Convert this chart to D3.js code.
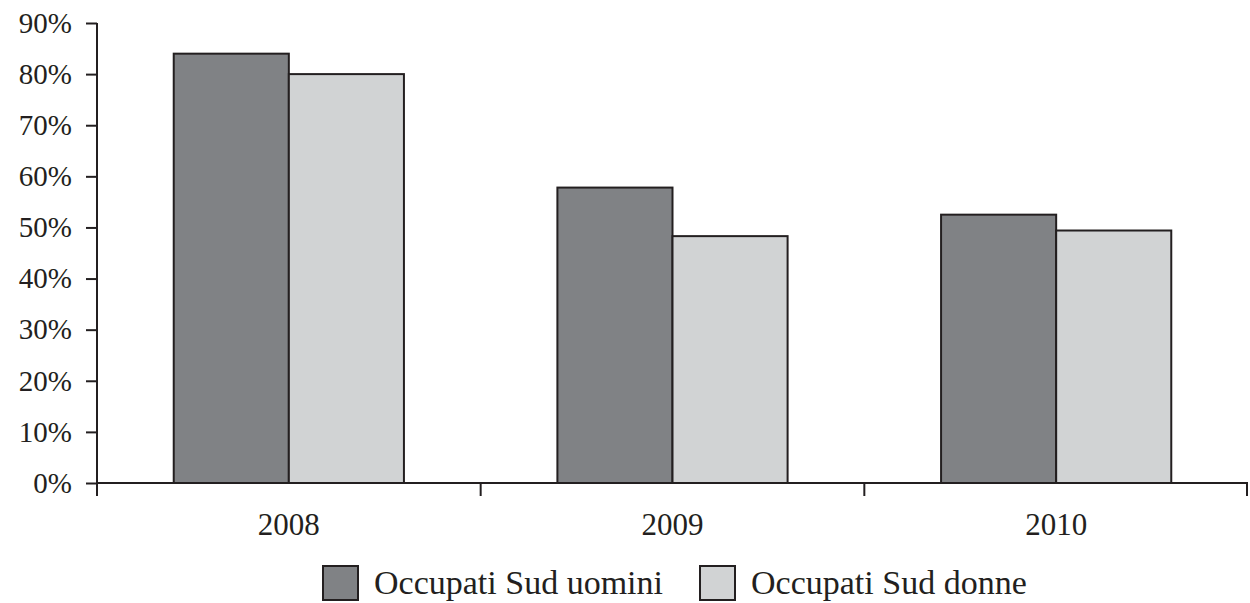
<!DOCTYPE html>
<html>
<head>
<meta charset="utf-8">
<script src="https://cdn.jsdelivr.net/npm/d3@7"></script>
<style>
  html, body { margin: 0; padding: 0; background: #fff; }
  svg { display: block; }
  text { font-family: "Liberation Serif", "DejaVu Serif", serif; fill: #231f20; }
</style>
</head>
<body>
<svg id="chart" width="1250" height="603"></svg>
<script>
// Employment share in the South, by year and sex
const years = ["2008", "2009", "2010"];
const seriesNames = ["Occupati Sud uomini", "Occupati Sud donne"];
const uomini = [84, 57.8, 52.5];
const donne = [80, 48.3, 49.4];
const yTicks = [0, 10, 20, 30, 40, 50, 60, 70, 80, 90];
const colors = ["#808285", "#d1d3d4"];

const svg = d3.select("#chart");
const margin = { left: 97, right: 2, top: 23, bottom: 120 };
const W = 1250, H = 603;

const x = d3.scaleBand()
  .domain(years)
  .range([margin.left, W - margin.right])
  .paddingInner(0.4)
  .paddingOuter(0.2);

const xSub = d3.scaleBand()
  .domain(seriesNames)
  .range([0, x.bandwidth()]);

const y = d3.scaleLinear()
  .domain([0, 90])
  .range([483, margin.top]);

const rows = years.map((yr, i) => ({ year: yr, values: [uomini[i], donne[i]] }));

// Bars
const groups = svg.append("g").selectAll("g")
  .data(rows)
  .join("g")
  .attr("transform", d => `translate(${x(d.year)},0)`);

groups.selectAll("rect")
  .data(d => d.values.map((v, k) => ({ key: seriesNames[k], v, k })))
  .join("rect")
  .attr("x", d => xSub(d.key))
  .attr("y", d => y(d.v))
  .attr("width", xSub.bandwidth())
  .attr("height", d => y(0) - y(d.v))
  .attr("fill", d => colors[d.k])
  .attr("stroke", "#231f20")
  .attr("stroke-width", 2);

// Y axis
const yAxis = d3.axisLeft(y)
  .tickValues(yTicks)
  .tickFormat(d => d + "%")
  .tickSize(11)
  .tickPadding(14);

const gy = svg.append("g")
  .attr("transform", `translate(${margin.left},0)`)
  .call(yAxis);
gy.select(".domain").remove();
gy.append("line")
  .attr("x1", 0).attr("x2", 0)
  .attr("y1", y(90)).attr("y2", y(0) + 13)
  .attr("stroke", "#231f20").attr("stroke-width", 2);
gy.selectAll(".tick line").attr("stroke", "#231f20").attr("stroke-width", 2);
gy.selectAll(".tick text")
  .style("font-size", "29px")
  .attr("fill", "#231f20");

// X axis with boundary ticks between categories
const gx = svg.append("g")
  .attr("transform", `translate(0,${y(0)})`);
gx.append("line")
  .attr("x1", margin.left).attr("x2", W - margin.right)
  .attr("y1", 0).attr("y2", 0)
  .attr("stroke", "#231f20").attr("stroke-width", 2);
const step = x.step();
const bounds = d3.range(years.length + 1).map(i => x.range()[0] + i * step);
gx.selectAll("line.bound")
  .data(bounds.slice(1))
  .join("line")
  .attr("class", "bound")
  .attr("x1", d => Math.min(d, W - margin.right - 1)).attr("x2", d => Math.min(d, W - margin.right - 1))
  .attr("y1", 0).attr("y2", 13)
  .attr("stroke", "#231f20").attr("stroke-width", 2);
gx.selectAll("text")
  .data(years)
  .join("text")
  .attr("x", d => x(d) + x.bandwidth() / 2)
  .attr("y", 52)
  .attr("text-anchor", "middle")
  .style("font-size", "31px")
  .text(d => d);

// Legend
const legend = svg.append("g").attr("transform", "translate(0,566)");
const legendX = [323, 700];
seriesNames.forEach((name, k) => {
  legend.append("rect")
    .attr("x", legendX[k]).attr("y", 0)
    .attr("width", 35).attr("height", 34)
    .attr("fill", colors[k])
    .attr("stroke", "#231f20").attr("stroke-width", 2);
  legend.append("text")
    .attr("x", legendX[k] + 51).attr("y", 28)
    .style("font-size", "34px")
    .text(name);
});
</script>
</body>
</html>
